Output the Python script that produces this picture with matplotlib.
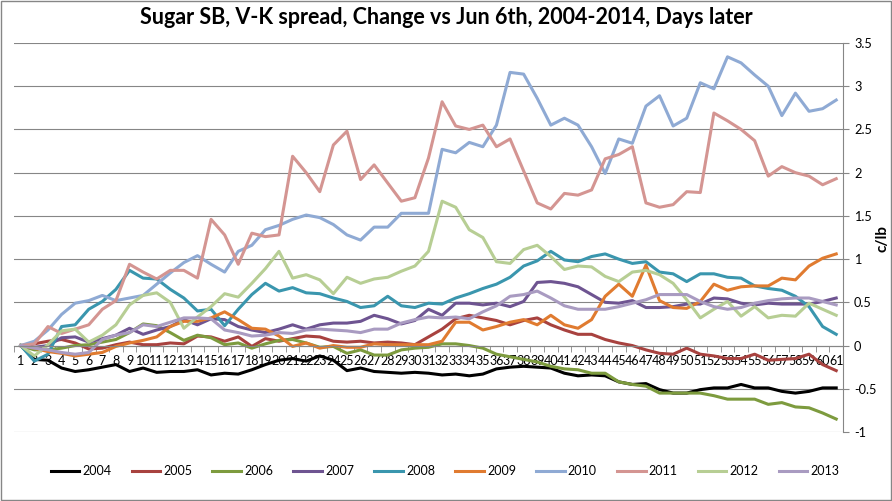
import numpy as np
import matplotlib
matplotlib.use('Agg')
import matplotlib.pyplot as plt
from matplotlib.ticker import FuncFormatter

plt.rcParams['font.family'] = ['Lato', 'DejaVu Sans']

days = list(range(1, 62))
years = ['2004', '2005', '2006', '2007', '2008', '2009', '2010', '2011', '2012', '2013']

y2004 = [0, -0.16, -0.17, -0.26, -0.30, -0.28, -0.25, -0.22, -0.30, -0.26,
         -0.31, -0.30, -0.30, -0.28, -0.34, -0.32, -0.33, -0.28, -0.22, -0.17,
         -0.15, -0.18, -0.12, -0.17, -0.29, -0.26, -0.30, -0.31, -0.32, -0.31,
         -0.32, -0.34, -0.33, -0.35, -0.33, -0.27, -0.25, -0.24, -0.25, -0.26,
         -0.32, -0.35, -0.34, -0.35, -0.42, -0.45, -0.44, -0.51, -0.55, -0.55,
         -0.51, -0.49, -0.49, -0.45, -0.49, -0.49, -0.53, -0.55, -0.53, -0.49, -0.49]
y2005 = [0, 0.02, 0.05, 0.07, 0.03, -0.04, -0.03, 0.01, 0.04, 0.01,
         0.01, 0.03, 0.02, 0.11, 0.10, 0.05, 0.10, -0.01, 0.08, 0.05,
         0.08, 0.11, 0.10, 0.05, 0.04, 0.05, 0.03, 0.04, 0.03, 0.01,
         0.10, 0.19, 0.31, 0.35, 0.32, 0.29, 0.24, 0.29, 0.32, 0.24,
         0.18, 0.13, 0.13, 0.07, 0.03, 0.0, -0.05, -0.09, -0.10, -0.03,
         -0.10, -0.12, -0.15, -0.15, -0.10, -0.17, -0.16, -0.15, -0.10, -0.22, -0.29]
y2006 = [0, -0.05, -0.05, -0.03, 0.0, 0.01, 0.04, 0.07, 0.15, 0.25,
         0.23, 0.15, 0.06, 0.12, 0.09, 0.01, 0.03, -0.03, 0.02, 0.06,
         0.07, 0.03, -0.02, -0.01, -0.09, -0.05, -0.11, -0.11, -0.05, -0.03,
         -0.02, 0.02, 0.02, 0.0, -0.03, -0.10, -0.13, -0.16, -0.19, -0.24,
         -0.27, -0.28, -0.32, -0.32, -0.42, -0.45, -0.47, -0.55, -0.55, -0.55,
         -0.55, -0.58, -0.62, -0.62, -0.62, -0.68, -0.66, -0.71, -0.72, -0.78, -0.85]
y2007 = [0, -0.02, 0.0, 0.09, 0.10, 0.04, 0.08, 0.12, 0.20, 0.13,
         0.18, 0.22, 0.30, 0.24, 0.31, 0.30, 0.22, 0.18, 0.15, 0.19,
         0.24, 0.19, 0.24, 0.26, 0.26, 0.28, 0.35, 0.31, 0.25, 0.29,
         0.42, 0.35, 0.49, 0.49, 0.47, 0.49, 0.45, 0.51, 0.73, 0.74,
         0.72, 0.68, 0.59, 0.50, 0.49, 0.52, 0.44, 0.44, 0.45, 0.48,
         0.48, 0.55, 0.54, 0.49, 0.47, 0.49, 0.48, 0.48, 0.48, 0.51, 0.55]
y2008 = [0, -0.18, -0.10, 0.22, 0.24, 0.42, 0.51, 0.65, 0.87, 0.78,
         0.77, 0.65, 0.55, 0.40, 0.42, 0.23, 0.42, 0.59, 0.72, 0.63,
         0.67, 0.61, 0.60, 0.55, 0.51, 0.44, 0.46, 0.57, 0.46, 0.44,
         0.49, 0.48, 0.55, 0.60, 0.66, 0.71, 0.79, 0.92, 0.98, 1.09,
         0.99, 0.97, 1.03, 1.06, 1.00, 0.95, 0.97, 0.85, 0.83, 0.74,
         0.83, 0.83, 0.79, 0.78, 0.69, 0.66, 0.64, 0.57, 0.45, 0.22, 0.13]
y2009 = [0, -0.03, -0.07, -0.09, -0.12, -0.10, -0.08, -0.01, 0.03, 0.06,
         0.10, 0.22, 0.28, 0.28, 0.32, 0.39, 0.30, 0.20, 0.19, 0.11,
         -0.01, 0.03, -0.03, 0.0, -0.02, -0.02, 0.02, 0.01, 0.01, 0.01,
         0.01, 0.05, 0.27, 0.27, 0.18, 0.22, 0.27, 0.30, 0.24, 0.35,
         0.24, 0.20, 0.30, 0.57, 0.71, 0.57, 0.93, 0.52, 0.44, 0.43,
         0.51, 0.71, 0.64, 0.68, 0.69, 0.69, 0.78, 0.76, 0.92, 1.01, 1.06]
y2010 = [0, 0.05, 0.18, 0.36, 0.49, 0.52, 0.58, 0.52, 0.55, 0.58,
         0.71, 0.84, 0.96, 1.04, 0.94, 0.85, 1.09, 1.16, 1.34, 1.39,
         1.46, 1.51, 1.48, 1.40, 1.28, 1.22, 1.37, 1.37, 1.53, 1.53,
         1.53, 2.27, 2.23, 2.35, 2.30, 2.55, 3.16, 3.14, 2.86, 2.55,
         2.63, 2.55, 2.30, 1.99, 2.39, 2.34, 2.77, 2.89, 2.54, 2.63,
         3.04, 2.97, 3.34, 3.27, 3.13, 3.00, 2.66, 2.92, 2.71, 2.74, 2.84]
y2011 = [0, 0.02, 0.22, 0.14, 0.19, 0.24, 0.42, 0.52, 0.94, 0.85,
         0.77, 0.87, 0.87, 0.78, 1.46, 1.28, 0.94, 1.30, 1.26, 1.28,
         2.19, 2.00, 1.78, 2.32, 2.48, 1.92, 2.09, 1.88, 1.67, 1.71,
         2.17, 2.82, 2.54, 2.50, 2.55, 2.30, 2.39, 2.02, 1.65, 1.58,
         1.76, 1.74, 1.80, 2.16, 2.21, 2.30, 1.65, 1.60, 1.63, 1.78,
         1.77, 2.69, 2.60, 2.50, 2.37, 1.96, 2.07, 2.00, 1.96, 1.86, 1.93]
y2012 = [0, -0.12, 0.01, 0.17, 0.19, 0.04, 0.12, 0.24, 0.47, 0.58,
         0.61, 0.50, 0.20, 0.33, 0.45, 0.60, 0.56, 0.72, 0.89, 1.09,
         0.78, 0.82, 0.76, 0.60, 0.79, 0.72, 0.77, 0.79, 0.86, 0.92,
         1.09, 1.67, 1.60, 1.34, 1.25, 0.97, 0.95, 1.11, 1.16, 1.03,
         0.88, 0.92, 0.91, 0.80, 0.74, 0.85, 0.87, 0.82, 0.72, 0.53,
         0.32, 0.42, 0.51, 0.34, 0.45, 0.32, 0.35, 0.34, 0.49, 0.42, 0.35]
y2013 = [0, -0.03, -0.05, -0.08, -0.10, -0.08, 0.07, 0.12, 0.15, 0.24,
         0.22, 0.27, 0.32, 0.32, 0.31, 0.18, 0.15, 0.11, 0.12, 0.15,
         0.14, 0.18, 0.19, 0.18, 0.17, 0.15, 0.19, 0.19, 0.26, 0.30,
         0.33, 0.32, 0.33, 0.31, 0.39, 0.46, 0.57, 0.59, 0.63, 0.55,
         0.46, 0.42, 0.42, 0.42, 0.45, 0.49, 0.53, 0.59, 0.59, 0.59,
         0.51, 0.45, 0.42, 0.44, 0.49, 0.52, 0.54, 0.55, 0.55, 0.51, 0.47]

series = [y2004, y2005, y2006, y2007, y2008, y2009, y2010, y2011, y2012, y2013]
colors = ['#000000', '#A8423F', '#7D9B3E', '#6E5491', '#3A96AE',
          '#E07B30', '#8FAAD4', '#D49592', '#B7CE94', '#A99BC1']

grid_col = '#868686'

fig = plt.figure(figsize=(8.92, 5.01), dpi=100)
ax = fig.add_axes([14 / 892, 1 - 432 / 501, (843 - 14) / 892, (432 - 43) / 501])

for name, vals, col in zip(years, series, colors):
    ax.plot(days, vals, color=col, lw=2.2, label=name, solid_joinstyle='round')

ax.set_xlim(0.5, 61.5)
ax.set_ylim(-1, 3.5)
ax.set_yticks(np.arange(-1, 3.51, 0.5))
ax.yaxis.set_major_formatter(FuncFormatter(lambda v, p: '%g' % v))
ax.yaxis.tick_right()
ax.yaxis.grid(True, color=grid_col, lw=0.8)
ax.set_axisbelow(True)

for s in ['top', 'left']:
    ax.spines[s].set_visible(False)
ax.spines['right'].set_color(grid_col)
ax.spines['bottom'].set_color(grid_col)
ax.spines['bottom'].set_position(('data', 0))

ax.set_xticks(days)
ax.set_xticklabels([str(d) for d in days])
ax.set_xticks(np.arange(0.5, 62, 1), minor=True)
ax.tick_params(axis='x', which='major', length=0, pad=7, labelsize=9.0)
ax.tick_params(axis='x', which='minor', length=4, color=grid_col, direction='out')
ax.tick_params(axis='y', length=4, color=grid_col, labelsize=9.2, pad=4)

fig.text(882 / 892, 1 - 238 / 501, 'c/lb', rotation=90, fontweight='bold',
         fontsize=11, ha='center', va='center')
fig.text(0.5, 1 - 18 / 501, 'Sugar SB, V-K spread, Change vs Jun 6th, 2004-2014, Days later',
         ha='center', va='center', fontsize=15.5, fontweight='bold')

fig.legend(loc='center', bbox_to_anchor=(445 / 892, 1 - 471 / 501), ncol=10,
           frameon=False, fontsize=9, handlelength=2.3, handletextpad=0.25,
           columnspacing=1.6)

fig.add_artist(plt.Rectangle((0.001, 0.001), 0.998, 0.998, transform=fig.transFigure,
                             fill=False, edgecolor=grid_col, lw=1))

fig.savefig('out.png', dpi=100)
